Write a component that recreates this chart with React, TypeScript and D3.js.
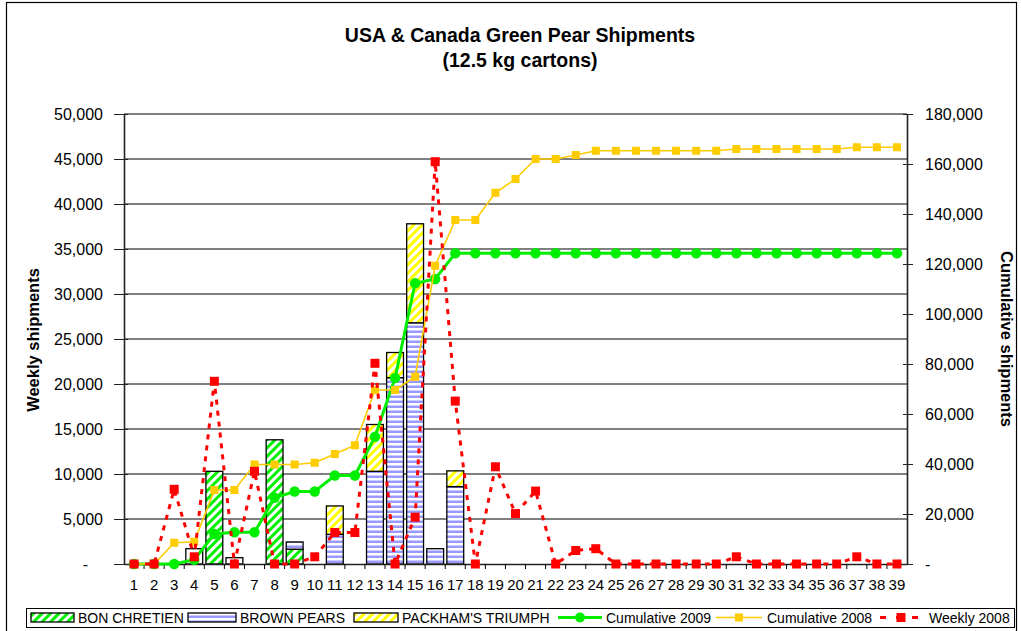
import * as d3 from 'd3';
import React, { useEffect, useRef } from 'react';

const weeks = d3.range(1, 40).map(String);

// weekly shipments (left axis), stacked bars
const bonChretien = [0, 0, 0, 0, 10300, 0, 0, 13800, 1650, 0, 0, 0, 0, 0, 0, 0, 0, 0, 0, 0, 0, 0, 0, 0, 0, 0, 0, 0, 0, 0, 0, 0, 0, 0, 0, 0, 0, 0, 0];
const brownPears = [0, 0, 0, 0, 0, 0, 0, 0, 800, 0, 3300, 0, 10300, 20700, 26800, 1700, 8600, 0, 0, 0, 0, 0, 0, 0, 0, 0, 0, 0, 0, 0, 0, 0, 0, 0, 0, 0, 0, 0, 0];
const packhams = [0, 0, 0, 0, 0, 0, 0, 0, 0, 0, 3150, 0, 5200, 2800, 11000, 0, 1750, 0, 0, 0, 0, 0, 0, 0, 0, 0, 0, 0, 0, 0, 0, 0, 0, 0, 0, 0, 0, 0, 0];
const otherPears = [0, 0, 0, 1700, 0, 700, 0, 0, 0, 0, 0, 0, 0, 0, 0, 0, 0, 0, 0, 0, 0, 0, 0, 0, 0, 0, 0, 0, 0, 0, 0, 0, 0, 0, 0, 0, 0, 0, 0];

// cumulative (right axis)
const cumulative2009 = [0, 0, 0, 1700, 12000, 12700, 12700, 26500, 29000, 29000, 35400, 35400, 50900, 74400, 112300, 114000, 124300, 124300, 124300, 124300, 124300, 124300, 124300, 124300, 124300, 124300, 124300, 124300, 124300, 124300, 124300, 124300, 124300, 124300, 124300, 124300, 124300, 124300, 124300];
const cumulative2008 = [0, 0, 8500, 8900, 29600, 29600, 39800, 39800, 39800, 40500, 44000, 47500, 69600, 69600, 74900, 119300, 137600, 137600, 148500, 154000, 162000, 162000, 163600, 165300, 165300, 165300, 165300, 165300, 165300, 165300, 166000, 166000, 166000, 166000, 166000, 166000, 166700, 166700, 166700];
// weekly 2008 (left axis)
const weekly2008 = [0, 0, 8300, 800, 20300, 0, 10300, 0, 0, 800, 3500, 3500, 22300, 0, 5200, 44700, 18100, 0, 10800, 5600, 8100, 0, 1500, 1700, 0, 0, 0, 0, 0, 0, 800, 0, 0, 0, 0, 0, 800, 0, 0];

const leftTicks = d3.range(0, 50001, 5000);
const rightTicks = d3.range(0, 180001, 20000);

const FONT = 'Arial, "Liberation Sans", sans-serif';
const GREEN = '#00ee00';
const GOLD = '#ffcc00';
const RED = '#ff0000';

export default function App() {
  const svgRef = useRef<SVGSVGElement>(null);

  useEffect(() => {
    const svg = d3.select(svgRef.current).html('');
    const left = 124, right = 907, top = 114, bottom = 564;

    const x = d3.scaleBand<string>()
      .domain(weeks)
      .range([left, right])
      .paddingInner(0.16)
      .paddingOuter(0.08);
    const yL = d3.scaleLinear().domain([0, 50000]).range([bottom, top]);
    const yR = d3.scaleLinear().domain([0, 180000]).range([bottom, top]);
    const cx = (i: number) => x(weeks[i])! + x.bandwidth() / 2;

    // patterns
    const defs = svg.append('defs');
    const hatch = (id: string, color: string) => {
      const p = defs.append('pattern')
        .attr('id', id)
        .attr('patternUnits', 'userSpaceOnUse')
        .attr('width', 6).attr('height', 6)
        .attr('patternTransform', 'rotate(45)');
      p.append('rect').attr('width', 6).attr('height', 6).attr('fill', '#fff');
      p.append('rect').attr('width', 3).attr('height', 6).attr('fill', color);
    };
    hatch('hatchGreen', '#00f000');
    hatch('hatchYellow', '#ffff00');
    const stripes = defs.append('pattern')
      .attr('id', 'stripeBlue')
      .attr('patternUnits', 'userSpaceOnUse')
      .attr('width', 6).attr('height', 5);
    stripes.append('rect').attr('width', 6).attr('height', 5).attr('fill', '#fff');
    stripes.append('rect').attr('y', 0.5).attr('width', 6).attr('height', 2.5).attr('fill', '#9999ff');

    // outer border
    svg.append('rect')
      .attr('x', 6.5).attr('y', 2.5).attr('width', 1010).attr('height', 660)
      .attr('fill', 'none').attr('stroke', '#000').attr('stroke-width', 1.2);

    // title
    const title = svg.append('text')
      .attr('text-anchor', 'middle')
      .attr('font-family', FONT).attr('font-weight', 'bold').attr('font-size', 19.5);
    title.append('tspan').attr('x', 520).attr('y', 42).text('USA & Canada Green Pear Shipments');
    title.append('tspan').attr('x', 520).attr('y', 67).text('(12.5 kg cartons)');

    // gridlines
    svg.append('g')
      .selectAll('line')
      .data(leftTicks.filter(d => d > 0))
      .enter().append('line')
      .attr('x1', left).attr('x2', right)
      .attr('y1', d => yL(d)).attr('y2', d => yL(d))
      .attr('stroke', '#000').attr('stroke-width', 1);

    // stacked bars
    const series = [
      { values: bonChretien, fill: 'url(#hatchGreen)' },
      { values: otherPears, fill: '#fff' },
      { values: brownPears, fill: 'url(#stripeBlue)' },
      { values: packhams, fill: 'url(#hatchYellow)' },
    ];
    const base = weeks.map(() => 0);
    const barG = svg.append('g');
    series.forEach(s => {
      const segs = s.values.map((v, i) => ({ i, y0: base[i], y1: base[i] + v }));
      segs.forEach(d => { base[d.i] = d.y1; });
      barG.selectAll(null)
        .data(segs.filter(d => d.y1 > d.y0))
        .enter().append('rect')
        .attr('x', d => x(weeks[d.i])!)
        .attr('y', d => yL(d.y1))
        .attr('width', x.bandwidth())
        .attr('height', d => yL(d.y0) - yL(d.y1))
        .attr('fill', s.fill)
        .attr('stroke', '#000').attr('stroke-width', 1.3);
    });

    // axes
    const fmt = (d: d3.NumberValue) => (+d === 0 ? '-' : d3.format(',')(d));
    const gL = svg.append('g')
      .attr('transform', `translate(${left},0)`)
      .call(d3.axisLeft(yL).tickValues(leftTicks).tickSize(10).tickSizeOuter(0).tickPadding(11).tickFormat(fmt));
    gL.selectAll('.tick line').attr('x2', -10).attr('x1', 4);
    gL.selectAll<SVGTextElement, number>('.tick text').filter(d => d === 0).attr('x', -36);

    const gR = svg.append('g')
      .attr('transform', `translate(${right},0)`)
      .call(d3.axisRight(yR).tickValues(rightTicks).tickSize(6).tickSizeOuter(0).tickPadding(12).tickFormat(fmt));
    gR.selectAll('.tick line').attr('x1', -4).attr('x2', 6);

    const gB = svg.append('g')
      .attr('transform', `translate(0,${bottom})`)
      .call(d3.axisBottom(x).tickSize(0).tickSizeOuter(0).tickPadding(15));
    gB.selectAll('.tick line').remove();
    gB.append('g')
      .selectAll('line')
      .data(weeks.slice(1))
      .enter().append('line')
      .attr('x1', d => x(d)! - x.step() * x.paddingInner() / 2)
      .attr('x2', d => x(d)! - x.step() * x.paddingInner() / 2)
      .attr('y1', 0).attr('y2', 5)
      .attr('stroke', '#000');

    [gL, gR, gB].forEach(g => {
      g.selectAll('.domain').attr('stroke', '#222').attr('stroke-width', 1.6);
      g.selectAll('.tick line').attr('stroke', '#222');
      g.selectAll('text').attr('font-family', FONT).attr('font-size', 16).attr('fill', '#000');
    });
    gB.selectAll('text').attr('font-size', 15);

    // axis titles
    svg.append('text')
      .attr('transform', 'translate(39,340) rotate(-90)')
      .attr('text-anchor', 'middle')
      .attr('font-family', FONT).attr('font-weight', 'bold').attr('font-size', 16.5)
      .text('Weekly shipments');
    svg.append('text')
      .attr('transform', 'translate(1001,339) rotate(90)')
      .attr('text-anchor', 'middle')
      .attr('font-family', FONT).attr('font-weight', 'bold').attr('font-size', 16.5)
      .text('Cumulative shipments');

    // lines
    const lineR = d3.line<number>().x((_, i) => cx(i)).y(d => yR(d));
    const lineL = d3.line<number>().x((_, i) => cx(i)).y(d => yL(d));

    svg.append('path').datum(cumulative2009)
      .attr('d', lineR).attr('fill', 'none').attr('stroke', GREEN).attr('stroke-width', 3);
    svg.append('g').selectAll('circle').data(cumulative2009).enter().append('circle')
      .attr('cx', (_, i) => cx(i)).attr('cy', d => yR(d)).attr('r', 5.2).attr('fill', GREEN);

    svg.append('path').datum(cumulative2008)
      .attr('d', lineR).attr('fill', 'none').attr('stroke', GOLD).attr('stroke-width', 1.6);
    svg.append('g').selectAll('rect').data(cumulative2008).enter().append('rect')
      .attr('x', (_, i) => cx(i) - 4).attr('y', d => yR(d) - 4)
      .attr('width', 8).attr('height', 8).attr('fill', GOLD);

    svg.append('path').datum(weekly2008)
      .attr('d', lineL).attr('fill', 'none').attr('stroke', RED)
      .attr('stroke-width', 3).attr('stroke-dasharray', '5,6');
    svg.append('g').selectAll('rect').data(weekly2008).enter().append('rect')
      .attr('x', (_, i) => cx(i) - 4.5).attr('y', d => yL(d) - 4.5)
      .attr('width', 9).attr('height', 9).attr('fill', RED);

    // legend
    const lg = svg.append('g');
    lg.append('rect').attr('x', 26.5).attr('y', 608.5).attr('width', 988).attr('height', 19)
      .attr('fill', '#fff').attr('stroke', '#000');
    const swatches = [
      { x: 31, w: 43, fill: 'url(#hatchGreen)', label: 'BON CHRETIEN', tx: 78 },
      { x: 188, w: 48, fill: 'url(#stripeBlue)', label: 'BROWN PEARS', tx: 240 },
      { x: 354, w: 44, fill: 'url(#hatchYellow)', label: "PACKHAM'S TRIUMPH", tx: 402 },
    ];
    swatches.forEach(s => {
      lg.append('rect').attr('x', s.x).attr('y', 613).attr('width', s.w).attr('height', 9)
        .attr('fill', s.fill).attr('stroke', '#000').attr('stroke-width', 1.3);
    });
    const lineItems = [
      { x1: 558, x2: 602, label: 'Cumulative 2009', tx: 606 },
      { x1: 716, x2: 762, label: 'Cumulative 2008', tx: 767 },
      { x1: 880, x2: 922, label: 'Weekly 2008', tx: 929 },
    ];
    lg.append('line').attr('x1', lineItems[0].x1).attr('x2', lineItems[0].x2).attr('y1', 617.5).attr('y2', 617.5)
      .attr('stroke', GREEN).attr('stroke-width', 3);
    lg.append('circle').attr('cx', 580).attr('cy', 617.5).attr('r', 5).attr('fill', GREEN);
    lg.append('line').attr('x1', lineItems[1].x1).attr('x2', lineItems[1].x2).attr('y1', 617.5).attr('y2', 617.5)
      .attr('stroke', GOLD).attr('stroke-width', 1.6);
    lg.append('rect').attr('x', 735).attr('y', 613.5).attr('width', 8).attr('height', 8).attr('fill', GOLD);
    lg.append('line').attr('x1', lineItems[2].x1).attr('x2', lineItems[2].x2).attr('y1', 617.5).attr('y2', 617.5)
      .attr('stroke', RED).attr('stroke-width', 3).attr('stroke-dasharray', '6,10');
    lg.append('rect').attr('x', 896.5).attr('y', 613).attr('width', 9).attr('height', 9).attr('fill', RED);

    [...swatches, ...lineItems].forEach(s => {
      lg.append('text').attr('x', s.tx).attr('y', 622.5)
        .attr('font-family', FONT).attr('font-size', 14).text(s.label);
    });
  }, []);

  return (
    <svg
      ref={svgRef}
      width={1021}
      height={631}
      style={{ position: 'absolute', left: 0, top: 0, background: '#fff' }}
    />
  );
}
